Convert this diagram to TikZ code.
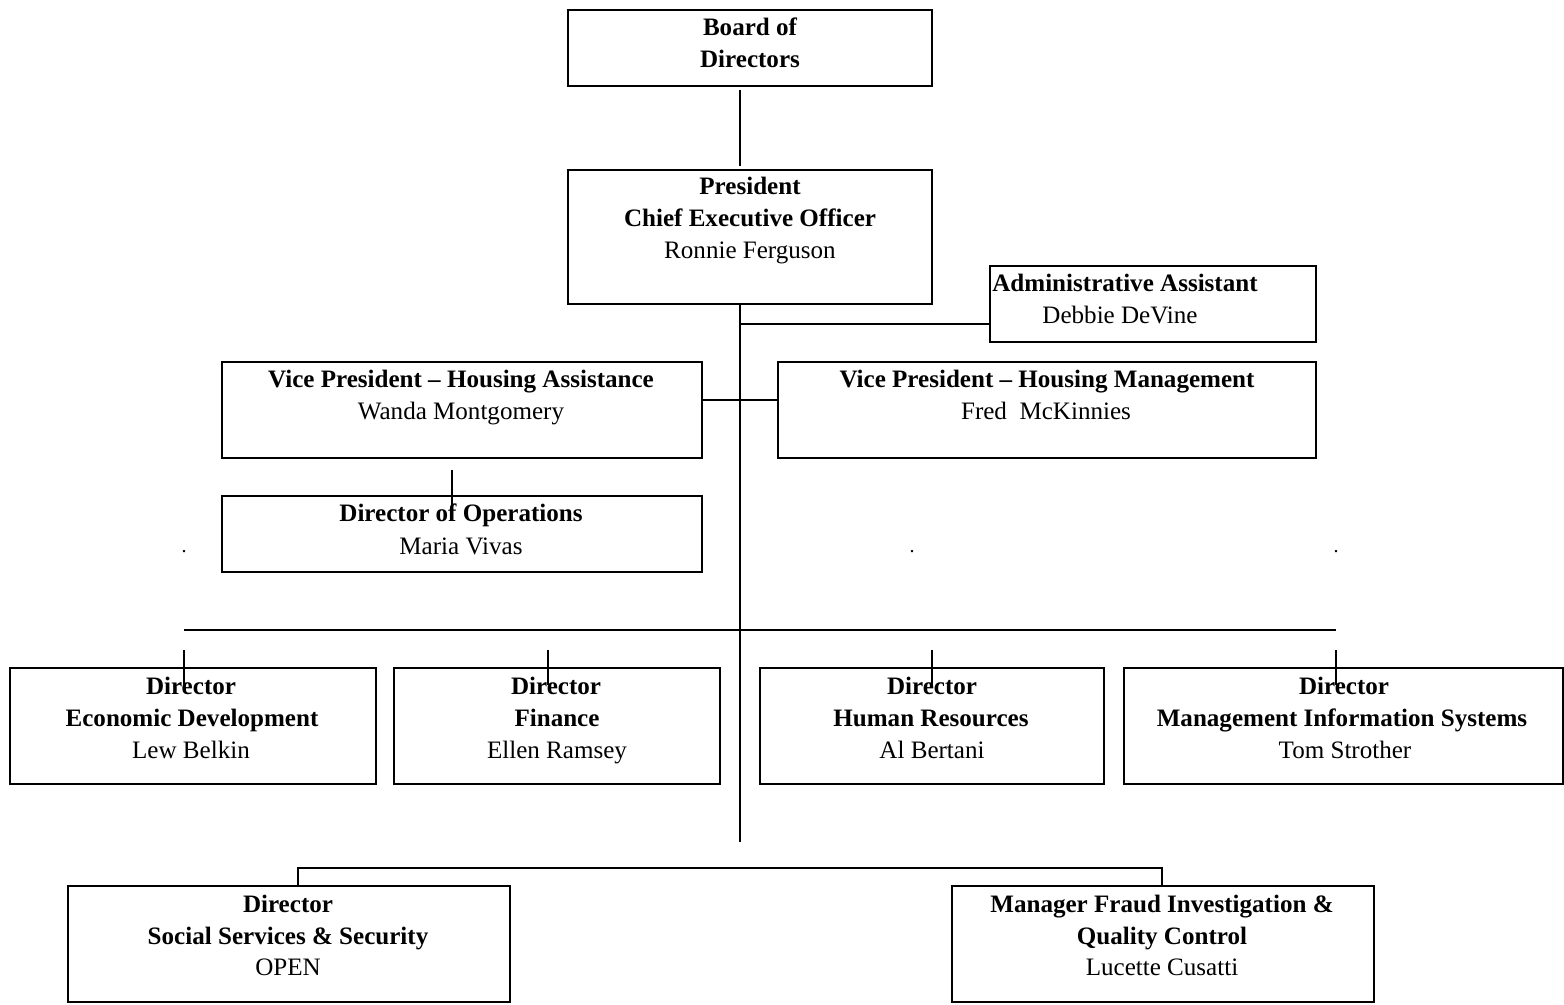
\documentclass[tikz,border=0pt]{standalone}
\usepackage{fontspec}
\setmainfont{Liberation Serif}
\usetikzlibrary{fit}
\begin{document}
\begin{tikzpicture}[x=0.75pt,y=-0.75pt,
  box/.style={draw,line width=1.5pt,rectangle,inner sep=0pt},
  conn/.style={line width=1.5pt},
  rt/.style={anchor=base,inner sep=0pt,font=\fontsize{18.8}{24}\selectfont},
  bt/.style={anchor=base,inner sep=0pt,font=\fontsize{18.8}{24}\selectfont\bfseries},
  dotst/.style={anchor=base,inner sep=0pt,font=\fontsize{15}{18}\selectfont}]
\useasboundingbox (0,0) rectangle (1564,1005);
% boxes
\node[box,fit={(568,10) (932,86)}] (board) {};
\node[box,fit={(568,170) (932,304)}] (pres) {};
\node[box,fit={(990,266) (1316,342)}] (admin) {};
\node[box,fit={(222,362) (702,458)}] (vpha) {};
\node[box,fit={(778,362) (1316,458)}] (vphm) {};
\node[box,fit={(222,496) (702,572)}] (ops) {};
\node[box,fit={(10,668) (376,784)}] (econ) {};
\node[box,fit={(394,668) (720,784)}] (fin) {};
\node[box,fit={(760,668) (1104,784)}] (hr) {};
\node[box,fit={(1124,668) (1563,784)}] (mis) {};
\node[box,fit={(68,886) (510,1002)}] (sss) {};
\node[box,fit={(952,886) (1374,1002)}] (fraud) {};
% texts
\node[bt] (board1) at (750,36) {Board of};
\node[bt] (board2) at (750,68) {Directors};
\node[bt] (pres1) at (750,195) {President};
\node[bt] (pres2) at (750,227) {Chief Executive Officer};
\node[rt] (pres3) at (750,259) {Ronnie Ferguson};
\node[bt] (admin1) at (1125,292) {Administrative Assistant};
\node[rt] (admin2) at (1120,324) {Debbie DeVine};
\node[bt] (vpha1) at (461,388) {Vice President -- Housing Assistance};
\node[rt] (vpha2) at (461,420) {Wanda Montgomery};
\node[bt] (vphm1) at (1047,388) {Vice President -- Housing Management};
\node[rt] (vphm2) at (1046,420) {Fred\ \ McKinnies};
\node[bt] (ops1) at (461,522) {Director of Operations};
\node[rt] (ops2) at (461,554) {Maria Vivas};
\node[bt] (econ1) at (191,694) {Director};
\node[bt] (econ2) at (192,726) {Economic Development};
\node[rt] (econ3) at (191,758) {Lew Belkin};
\node[bt] (fin1) at (556,694) {Director};
\node[bt] (fin2) at (557,726) {Finance};
\node[rt] (fin3) at (557,758) {Ellen Ramsey};
\node[bt] (hr1) at (932,694) {Director};
\node[bt] (hr2) at (931,726) {Human Resources};
\node[rt] (hr3) at (932,758) {Al Bertani};
\node[bt] (mis1) at (1344,694) {Director};
\node[bt] (mis2) at (1342,726) {Management Information Systems};
\node[rt] (mis3) at (1345,758) {Tom Strother};
\node[bt] (sss1) at (288,912) {Director};
\node[bt] (sss2) at (288,944) {Social Services \& Security};
\node[rt] (sss3) at (288,975) {OPEN};
\node[bt] (fraud1) at (1162,912) {Manager Fraud Investigation \&};
\node[bt] (fraud2) at (1162,944) {Quality Control};
\node[rt] (fraud3) at (1162,975) {Lucette Cusatti};
% dots
\node[dotst] (dot1) at (184,552) {.};
\node[dotst] (dot2) at (912,552) {.};
\node[dotst] (dot3) at (1336,552) {.};
% connector coordinates
\coordinate (b0) at (740,90);
\coordinate (b1) at (740,166);
\coordinate (spA) at (740,324);
\coordinate (spEnd) at (740,842);
\coordinate (vpL) at (702,400);
\coordinate (vpR) at (778,400);
\coordinate (opT) at (452,470);
\coordinate (opB) at (452,508);
\coordinate (hL) at (184,630);
\coordinate (hR) at (1336,630);
\coordinate (s1t) at (184,650);
\coordinate (s2t) at (548,650);
\coordinate (s3t) at (932,650);
\coordinate (s4t) at (1336,650);
\coordinate (bL) at (298,868);
\coordinate (bR) at (1162,868);
% connectors
\draw[conn] (b0) -- (b1);
\draw[conn] (pres.south -| spA) -- (spEnd);
\draw[conn] (spA) -- (admin.west |- spA);
\draw[conn] (vpL) -- (vpR);
\draw[conn] (opT) -- (opB);
\draw[conn] (hL) -- (hR);
\draw[conn] (s1t) -- ++(0,35);
\draw[conn] (s2t) -- ++(0,35);
\draw[conn] (s3t) -- ++(0,35);
\draw[conn] (s4t) -- ++(0,35);
\draw[conn] (sss.north -| bL) -- (bL) -- (bR) -- (fraud.north -| bR);
\end{tikzpicture}
\end{document}
